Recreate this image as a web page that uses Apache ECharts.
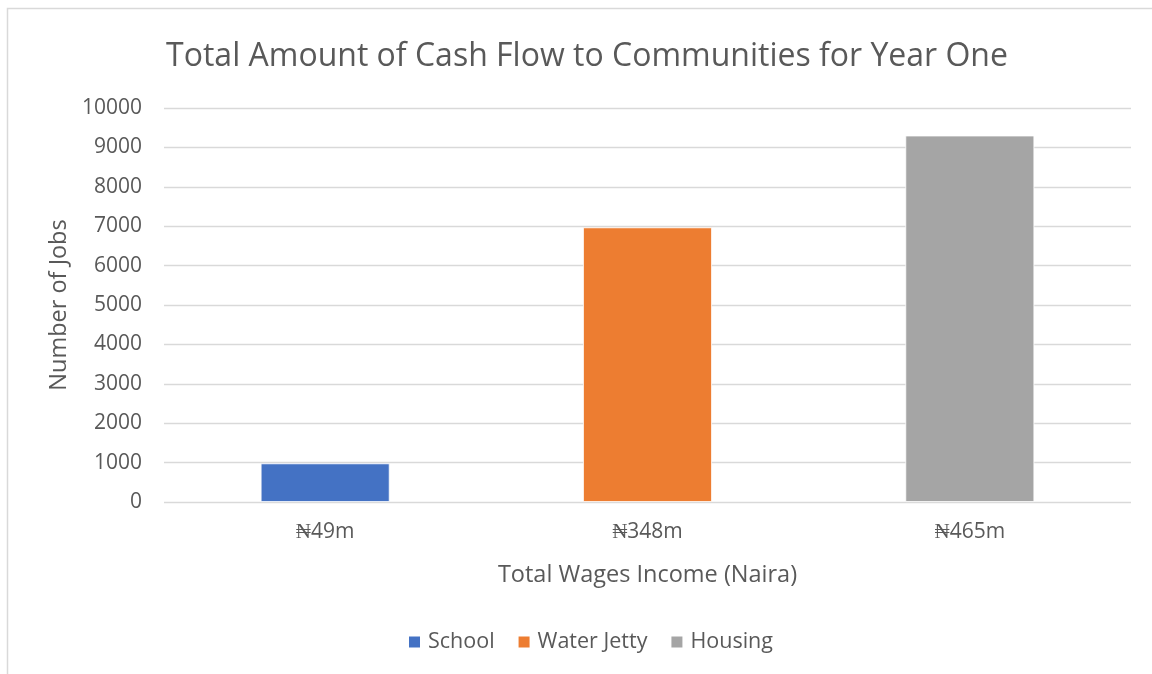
<!DOCTYPE html>
<html>
<head>
<meta charset="utf-8">
<script src="https://cdn.jsdelivr.net/npm/echarts@6/dist/echarts.min.js"></script>
<style>
  html, body { margin: 0; padding: 0; background: #fff; }
  #chart { width: 1152px; height: 674px; }
</style>
</head>
<body>
<div id="chart"></div>
<script>
// Wage-income categories on the x axis
const categories = ['₦49m', '₦348m', '₦465m'];
// Jobs per project (each project sits in its own category)
const schoolJobs = [980, '-', '-'];
const waterJettyJobs = ['-', 6970, '-'];
const housingJobs = ['-', '-', 9300];
// Value axis ticks
const yTicks = [0, 1000, 2000, 3000, 4000, 5000, 6000, 7000, 8000, 9000, 10000];

const font = 'Open Sans';
const textColor = '#595959';
const chart = echarts.init(document.getElementById('chart'), null, { renderer: 'canvas' });

const barStyle = (color) => ({ color: color, borderColor: '#ffffff', borderWidth: 0.8 });

chart.setOption({
  animation: false,
  backgroundColor: '#ffffff',
  textStyle: { fontFamily: font },
  graphic: [{
    type: 'rect',
    shape: { x: 7.5, y: 8.5, width: 1300, height: 800 },
    style: { fill: 'none', stroke: '#d9d9d9', lineWidth: 1.5 },
    silent: true
  }],
  title: {
    text: 'Total Amount of Cash Flow to Communities for Year One',
    left: 582,
    textAlign: 'center',
    top: 36,
    textStyle: { fontFamily: font, fontSize: 32, fontWeight: 'normal', color: textColor }
  },
  legend: {
    bottom: 16,
    left: 402,
    itemWidth: 13,
    itemHeight: 13,
    itemGap: 22,
    icon: 'rect',
    textStyle: { fontFamily: font, fontSize: 21.5, color: textColor, padding: [0, 0, 0, 2] },
    data: ['School', 'Water Jetty', 'Housing']
  },
  grid: { left: 164, right: 21, top: 108, bottom: 172, containLabel: false },
  xAxis: {
    type: 'category',
    data: categories,
    axisLine: { show: false },
    axisTick: { show: false },
    axisLabel: { fontFamily: font, fontSize: 21, color: textColor, margin: 20 },
    name: 'Total Wages Income (Naira)',
    nameLocation: 'middle',
    nameGap: 61,
    nameTextStyle: { fontFamily: font, fontSize: 23.5, color: textColor }
  },
  yAxis: {
    type: 'value',
    min: yTicks[0],
    max: yTicks[yTicks.length - 1],
    interval: yTicks[1] - yTicks[0],
    axisLine: { show: false },
    axisTick: { show: false },
    splitLine: { lineStyle: { color: '#d9d9d9', width: 1.3 } },
    axisLabel: { fontFamily: font, fontSize: 21, color: textColor, margin: 22, formatter: (v) => String(v) },
    name: 'Number of Jobs',
    nameLocation: 'middle',
    nameGap: 90,
    nameRotate: 90,
    nameTextStyle: { fontFamily: font, fontSize: 23.5, color: textColor }
  },
  series: [
    { name: 'School', type: 'bar', stack: 'jobs', barWidth: '40%', data: schoolJobs, itemStyle: barStyle('#4472c4') },
    { name: 'Water Jetty', type: 'bar', stack: 'jobs', barWidth: '40%', data: waterJettyJobs, itemStyle: barStyle('#ed7d31') },
    { name: 'Housing', type: 'bar', stack: 'jobs', barWidth: '40%', data: housingJobs, itemStyle: barStyle('#a5a5a5') }
  ]
});
</script>
</body>
</html>
